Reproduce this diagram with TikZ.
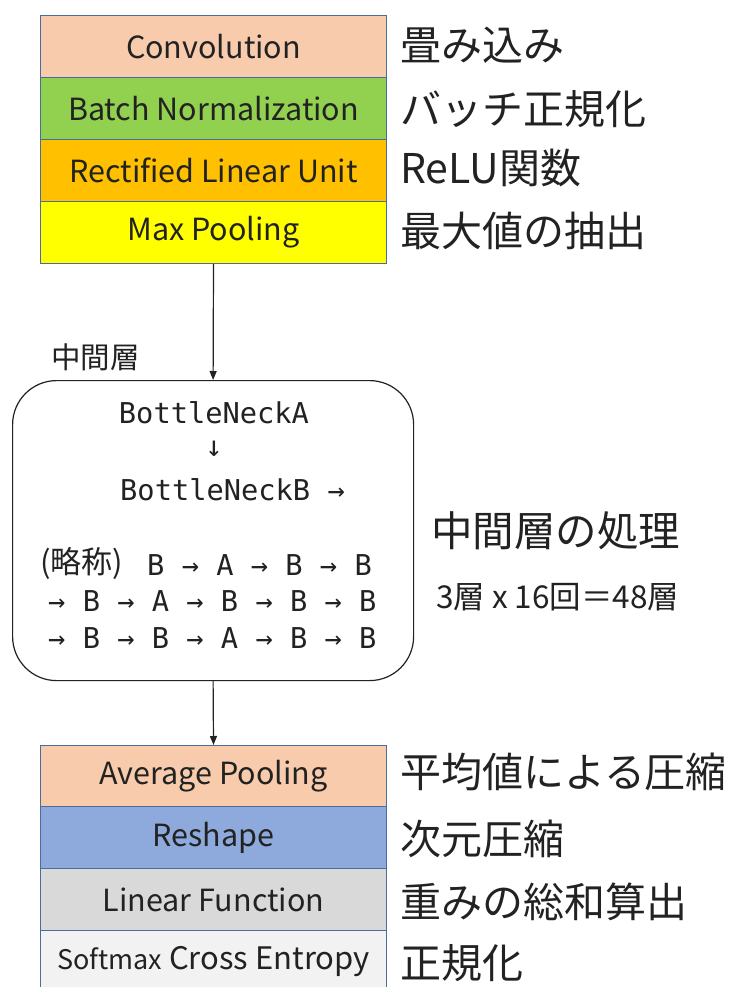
\documentclass[tikz,border=0pt]{standalone}
\usepackage{fontspec}
\setmainfont{Noto Sans CJK JP}
\newfontfamily\monofont{DejaVu Sans Mono}
\usetikzlibrary{arrows.meta}

\definecolor{inkc}{HTML}{222222}
\definecolor{edgec}{HTML}{4A6E9C}
\definecolor{peach}{HTML}{F8CBAD}
\definecolor{leaf}{HTML}{92D050}
\definecolor{amber}{HTML}{FFC000}
\definecolor{lemon}{HTML}{FFFF00}
\definecolor{sky}{HTML}{8EA9DB}
\definecolor{silver}{HTML}{D9D9D9}
\definecolor{mist}{HTML}{F2F2F2}

\tikzset{
  layer/.style={draw=edgec, line width=1pt, minimum width=346pt, minimum height=62pt,
    inner sep=0pt, anchor=north west, text=inkc,
    font=\fontsize{30.5}{33}\selectfont},
  note/.style={anchor=west, inner sep=0pt, text=inkc, font=\fontsize{41}{44}\selectfont},
  seq/.style={anchor=west, inner sep=0pt, text=inkc, font=\monofont\fontsize{28.7}{31}\selectfont},
  flow/.style={-{Triangle[length=9pt,width=7pt]}, line width=1.2pt, draw=inkc},
}

\begin{document}
\begin{tikzpicture}[x=1pt,y=-1pt]
\useasboundingbox[fill=white] (0,0) rectangle (736,987);

% front end of the network
\node[layer, fill=peach]  (conv) at (40,15)  {Convolution};
\node[layer, fill=leaf]   (bn)   at (40,77)  {Batch Normalization};
\node[layer, fill=amber]  (relu) at (40,139) {Rectified Linear Unit};
\node[layer, fill=lemon]  (pool) at (40,201) {Max Pooling};

\node[note] (convj) at (400,45)  {畳み込み};
\node[note] (bnj)   at (400,109) {バッチ正規化};
\node[note] (reluj) at (400,168) {ReLU関数};
\node[note] (poolj) at (400,231) {最大値の抽出};

% middle block
\node[draw=inkc, line width=1.2pt, rounded corners=44pt, minimum width=401pt,
      minimum height=300pt, anchor=north west, inner sep=0pt] (mid) at (12,380) {};
\node[anchor=west, inner sep=0pt, text=inkc, font=\fontsize{29.5}{32}\selectfont] (midlabel) at (51,357) {中間層};

\node[seq, anchor=center] (bna) at (214,413) {BottleNeckA};
\node[seq, anchor=center] (darr) at (214,449) {↓};
\node[seq] (bnb) at (120,490) {BottleNeckB →};
\node[anchor=west, inner sep=0pt, text=inkc, font=\fontsize{31}{33}\selectfont] (abbr) at (40,563) {(略称)};
\node[seq] (row1) at (147,565) {B → A → B → B};
\node[seq] (row2) at (48,601) {→ B → A → B → B → B};
\node[seq] (row3) at (48,638) {→ B → B → A → B → B};

\node[note, font=\fontsize{41.5}{44}\selectfont] (midj) at (431,531) {中間層の処理};
\node[note, font=\fontsize{31.5}{34}\selectfont] (countj) at (436,597) {3層 x 16回＝48層};

% classifier head
\node[layer, fill=peach]  (avg)  at (40,745) {Average Pooling};
\node[layer, fill=sky]    (resh) at (40,806) {Reshape};
\node[layer, fill=silver] (lin)  at (40,868) {Linear Function};
\node[layer, fill=mist]   (soft) at (40,930) {{\fontsize{27}{29}\selectfont Softmax} {\fontsize{31}{33}\selectfont Cross Entropy}};

\node[note] (avgj)  at (400,772) {平均値による圧縮};
\node[note] (reshj) at (400,839) {次元圧縮};
\node[note] (linj)  at (400,902) {重みの総和算出};
\node[note] (softj) at (400,963) {正規化};

% connectors
\draw[flow] (pool.south) -- (mid.north);
\draw[flow] (mid.south) -- (avg.north);
\end{tikzpicture}
\end{document}
